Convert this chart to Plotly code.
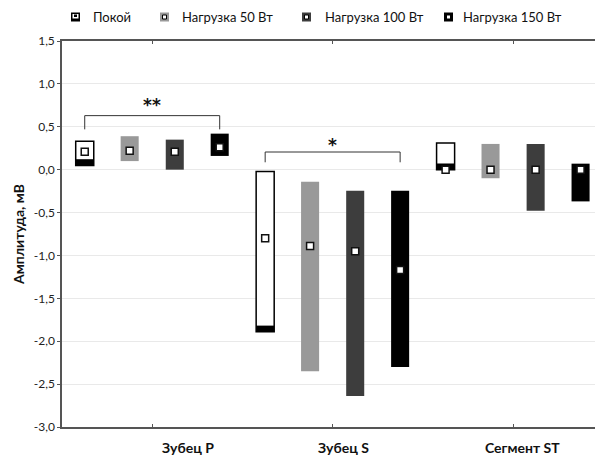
import plotly.graph_objects as go

# ---- data ----
categories = ["Зубец P", "Зубец S", "Сегмент ST"]
series = ["Покой", "Нагрузка 50 Вт", "Нагрузка 100 Вт", "Нагрузка 150 Вт"]

low_rest = [0.05, -1.89, 0.0]
high_rest = [0.33, -0.02, 0.31]
med_rest = [0.21, -0.80, 0.0]

low_50 = [0.10, -2.35, -0.10]
high_50 = [0.39, -0.14, 0.30]
med_50 = [0.22, -0.89, 0.0]

low_100 = [0.0, -2.64, -0.48]
high_100 = [0.35, -0.245, 0.30]
med_100 = [0.21, -0.95, 0.0]

low_150 = [0.16, -2.30, -0.37]
high_150 = [0.42, -0.245, 0.07]
med_150 = [0.26, -1.17, 0.0]

# significance brackets
sig_cat = [0, 1]
sig_text = ["**", "*"]
sig_top = [0.63, 0.206]
sig_leg = [0.47, 0.086]
sig_text_y = [0.75, 0.29]

y_ticks = [1.5, 1.0, 0.5, 0.0, -0.5, -1.0, -1.5, -2.0, -2.5, -3.0]
y_tick_labels = ["1,5", "1,0", "0,5", "0,0", "-0,5", "-1,0", "-1,5", "-2,0", "-2,5", "-3,0"]

# ---- style ----
colors = ["#ffffff", "#999999", "#3d3d3d", "#000000"]
offsets = [-0.374, -0.125, 0.125, 0.374]
BAR_W = 0.1
BAND = 0.072
FONT = "Lato, 'Open Sans', sans-serif"

lows = [low_rest, low_50, low_100, low_150]
highs = [high_rest, high_50, high_100, high_150]
meds = [med_rest, med_50, med_100, med_150]

fig = go.Figure()
for k in range(4):
    xs = [i + offsets[k] for i in range(len(categories))]
    fig.add_trace(go.Bar(
        x=xs, y=[h - l for h, l in zip(highs[k], lows[k])], base=lows[k],
        width=BAR_W, name=series[k], showlegend=False, hoverinfo="skip",
        marker=dict(color=colors[k],
                    line=dict(color="#000000" if k == 0 else colors[k], width=1.5 if k == 0 else 0)),
    ))
    if k == 0:
        fig.add_trace(go.Bar(
            x=xs, y=[BAND] * len(xs), base=lows[k], width=BAR_W, showlegend=False,
            hoverinfo="skip", marker=dict(color="#000000", line=dict(width=0)),
        ))
for k in range(4):
    xs = [i + offsets[k] for i in range(len(categories))]
    fig.add_trace(go.Scatter(
        x=xs, y=meds[k], mode="markers", showlegend=False, hoverinfo="skip",
        marker=dict(symbol="square", size=7, color="#ffffff",
                    line=dict(color="#111111", width=1.5)),
    ))

# brackets
for c, t, yt, yl, ty in zip(sig_cat, sig_text, sig_top, sig_leg, sig_text_y):
    x0 = c + offsets[0]
    x1 = c + offsets[3]
    fig.add_shape(type="path", xref="x", yref="y",
                  path=f"M {x0},{yl} L {x0},{yt} L {x1},{yt} L {x1},{yl}",
                  line=dict(color="#333333", width=1))
    fig.add_annotation(x=c, y=ty, xref="x", yref="y", text=f"<b>{t}</b>", showarrow=False,
                       font=dict(family="DejaVu Sans", size=17, color="#111111"))

# category labels (shifted right like the original)
label_pos = [0.2, 1.058, 2.05]
for i, cat in enumerate(categories):
    fig.add_annotation(x=label_pos[i], y=0, xref="x", yref="paper", yshift=-20,
                       text=f"<b>{cat}</b>", showarrow=False, yanchor="middle",
                       font=dict(family=FONT, size=14, color="#111111"))

W, H = 595, 455
L, R, T, B = 62, 0, 41, 28
PW, PH = W - L - R, H - T - B


def px(xp):
    return (xp - L) / PW


def py(yp):
    return (H - B - yp) / PH


fig.add_annotation(x=px(18), y=py(235), xref="paper", yref="paper",
                   text="<b>Амплитуда, мВ</b>", textangle=-90, showarrow=False,
                   xanchor="center", yanchor="middle",
                   font=dict(family=FONT, size=14, color="#111111"))

# custom legend
icon_x = [71, 160, 302, 444]
text_x = [91, 180, 323, 461]
ly = 17
s = 9
for k in range(4):
    x0 = icon_x[k]
    fill = "#000000" if k == 0 else colors[k]
    fig.add_shape(type="rect", xref="paper", yref="paper",
                  x0=px(x0), x1=px(x0 + s), y0=py(ly + s / 2), y1=py(ly - s / 2),
                  fillcolor=fill, line=dict(width=0))
    if k == 0:
        fig.add_shape(type="rect", xref="paper", yref="paper",
                      x0=px(x0 + 1.5), x1=px(x0 + s - 1.5), y0=py(ly + 1.5), y1=py(ly - s / 2 + 1.5),
                      fillcolor="#ffffff", line=dict(width=0))
        fig.add_shape(type="rect", xref="paper", yref="paper",
                      x0=px(x0 + 3), x1=px(x0 + s - 3), y0=py(ly), y1=py(ly - 2.5),
                      fillcolor="#000000", line=dict(width=0))
    else:
        fig.add_shape(type="rect", xref="paper", yref="paper",
                      x0=px(x0 + 2.5), x1=px(x0 + s - 2.5), y0=py(ly + 2), y1=py(ly - 2),
                      fillcolor="#ffffff", line=dict(color="#000000", width=1))
    fig.add_annotation(x=px(text_x[k]), y=py(ly), xref="paper", yref="paper",
                       text=series[k], showarrow=False, xanchor="left", yanchor="middle",
                       font=dict(family=FONT, size=13, color="#111111"))

fig.update_layout(
    width=W, height=H, autosize=False,
    margin=dict(l=L, r=R, t=T, b=B, pad=0),
    paper_bgcolor="white", plot_bgcolor="white",
    barmode="overlay",
    showlegend=False, hovermode=False,
    font=dict(family=FONT, size=12, color="#222222"),
)
fig.update_xaxes(range=[-0.5, 2.454], tickvals=[0, 1, 2], showticklabels=False,
                 ticks="inside", ticklen=3, tickcolor="#555555",
                 showline=True, linecolor="#555555", linewidth=2, mirror="ticks",
                 showgrid=False, zeroline=False)
fig.update_yaxes(range=[-3.0, 1.5], tickvals=y_ticks, ticktext=y_tick_labels,
                 ticks="outside", ticklen=3, tickcolor="#555555",
                 showline=True, linecolor="#555555", linewidth=1.5,
                 showgrid=True, gridcolor="#e9e9e9", gridwidth=1, zeroline=False,
                 tickfont=dict(family=FONT, size=12, color="#222222"))

fig.write_html("out.html", config={"displayModeBar": False},
               post_script="document.body.style.margin='0';document.body.style.padding='0';")
